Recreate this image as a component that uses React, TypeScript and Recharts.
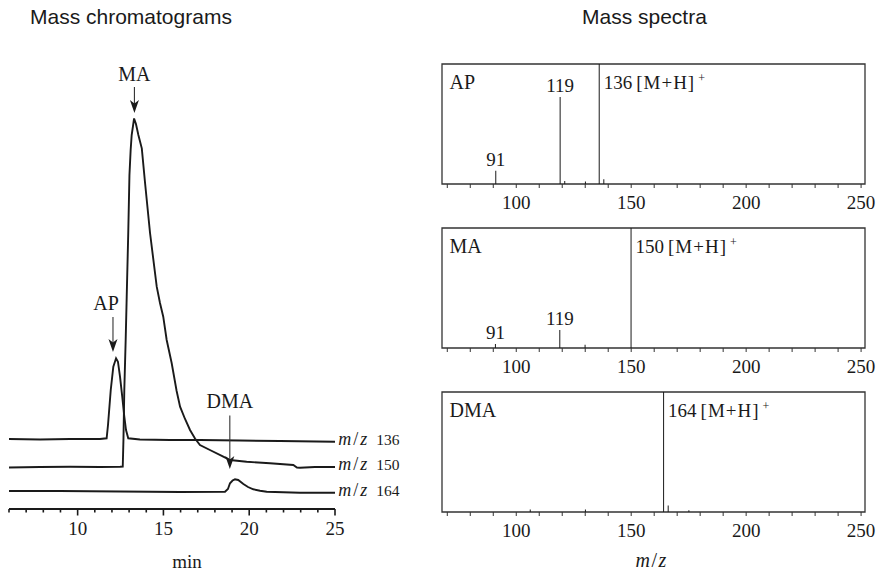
import React from 'react';
import {
  ComposedChart,
  Line,
  Bar,
  XAxis,
  YAxis,
  ReferenceArea,
  ReferenceLine,
  LabelList,
  Label,
} from 'recharts';

const SERIF = '"Liberation Serif", "Times New Roman", serif';
const SANS = '"Liberation Sans", Arial, Helvetica, sans-serif';
const INK = '#1a1a1a';

// ---------------- Mass chromatograms ----------------
const chromTicks = [6, 7, 8, 9, 10, 11, 12, 13, 14, 15, 16, 17, 18, 19, 20, 21, 22, 23, 24, 25];
const chromTickLabels = [10, 15, 20, 25];

// m/z 136 trace (AP)
const mz136Time = [6.0, 7.81, 9.56, 11.3, 11.69, 11.77, 11.93, 12.08, 12.24, 12.35, 12.47, 12.6, 12.72, 12.82, 12.95, 13.63, 15.38, 17.13, 19.46, 21.79, 25.0];
const mz136Signal = [0, -0.5, 0, 0, 0.7, 14, 49, 72.3, 80.7, 77.3, 62.3, 42.3, 22.3, 9, 0.7, -0.5, -1, -1, -1.5, -2, -2.7];

// m/z 150 trace (MA)
const mz150Time = [6.0, 7.81, 9.56, 11.3, 12.47, 12.63, 12.67, 12.72, 12.8, 12.86, 12.95, 13.02, 13.09, 13.15, 13.29, 13.4, 13.54, 13.74, 13.93, 14.22, 14.61, 14.8, 14.99, 15.19, 15.48, 15.77, 15.97, 16.26, 16.55, 16.84, 17.13, 17.71, 18.49, 18.88, 19.85, 21.21, 22.57, 22.78, 22.96, 23.83, 25.0];
const mz150Signal = [-0.5, 0, 0.3, 0, 0.3, 0.5, 27, 77, 127, 170, 234, 292, 317, 332, 348.5, 343, 332, 318.7, 284, 234, 180.3, 164, 150.3, 127, 104, 76, 60.3, 48, 37, 28.5, 22, 17, 10.3, 7, 5.3, 3.7, 2, -0.5, -0.7, 0, 0];

// m/z 164 trace (DMA)
const mz164Time = [6.0, 8.97, 12.47, 15.97, 18.59, 18.76, 18.88, 19.03, 19.17, 19.36, 19.66, 19.93, 20.24, 20.63, 21.02, 22.96, 25.0];
const mz164Signal = [0, 0, -0.5, -1, -0.7, 2, 7.7, 10.5, 11.7, 11, 7, 4, 1.7, 0.3, -0.7, -1.7, -1.7];

const traceMz = [136, 150, 164];
const traceOffset = [70, 42, 18];

// peak annotations (arrow tail / tip in data units)
const peakNames = ['AP', 'MA', 'DMA'];
const peakArrowTime = [12.06, 13.31, 18.87];
const peakArrowTail = [192, 422, 93.5];
const peakArrowTip = [157, 396, 40];
const peakLabelDx = [-7, 0, 0];
const peakLabelGap = [7, 6, 8];

// ---------------- Mass spectra ----------------
const specTicks = [70, 80, 90, 100, 110, 120, 130, 140, 150, 160, 170, 180, 190, 200, 210, 220, 230, 240, 250];
const specTickLabels = [100, 150, 200, 250];
const specDomain: [number, number] = [67.7, 251.7];

const apMz = [91, 119, 121, 130, 136, 138];
const apAbund = [11, 72.5, 2.5, 2, 100, 4];
const apLabeled = [91, 119, 136];

const maMz = [91, 119, 130, 150];
const maAbund = [3.3, 15, 2.8, 100];
const maLabeled = [91, 119, 150];

const dmaMz = [106, 130, 164, 166, 175];
const dmaAbund = [2, 2, 100, 5.5, 1.4];
const dmaLabeled = [164];

const specNames = ['AP', 'MA', 'DMA'];
const specPrecursor = [136, 150, 164];

// ---------------- components ----------------
const ChromTick = (props: any) => {
  const { x, y, payload } = props;
  const v = payload.value;
  const major = chromTickLabels.includes(v);
  return (
    <g>
      <line x1={x} x2={x} y1={y} y2={y + (major ? 6.5 : 3.5)} stroke={INK} strokeWidth={1.6} />
      {major && (
        <text x={x} y={y + 26} textAnchor="middle" fontSize={19} fontFamily={SERIF} fill={INK}>
          {v}
        </text>
      )}
    </g>
  );
};

const EndLabel = ({ x, y, mz }: any) => (
  <text x={x + 3.3} y={y + 3} fontFamily={SERIF} fill={INK}>
    <tspan fontStyle="italic" fontSize={18}>m</tspan>
    <tspan fontSize={18} dx={2}>/</tspan>
    <tspan fontStyle="italic" fontSize={18} dx={2}>z</tspan>
    <tspan fontSize={15.5} dx={9}>{mz}</tspan>
  </text>
);

const PeakArrow = (props: any) => {
  const { x1, y1, x2, y2, name, dx, gap } = props;
  if (x1 == null || y1 == null || x2 == null || y2 == null) return <g />;
  return (
    <g>
      <line x1={x1} y1={y1} x2={x2} y2={y2 - 9} stroke="#333" strokeWidth={1.1} />
      <path
        d={`M${x2},${y2} L${x2 - 4.5},${y2 - 13} L${x2},${y2 - 9.5} L${x2 + 4.5},${y2 - 13} Z`}
        fill={INK}
      />
      <text x={x1 + dx} y={y1 - gap} textAnchor="middle" fontSize={20} fontFamily={SERIF} fill={INK}>
        {name}
      </text>
    </g>
  );
};

function Chromatogram() {
  const raw = [
    { time: mz136Time, signal: mz136Signal },
    { time: mz150Time, signal: mz150Signal },
    { time: mz164Time, signal: mz164Signal },
  ];
  const series = raw.map((s, k) => s.time.map((t, i) => ({ t, v: s.signal[i] + traceOffset[k] })));
  return (
    <ComposedChart width={420} height={578} margin={{ top: 49, right: 85, bottom: 9, left: 9 }}>
      <XAxis
        dataKey="t"
        type="number"
        domain={[6, 25]}
        ticks={chromTicks}
        interval={0}
        tickSize={0}
        tickMargin={0}
        tickLine={false}
        axisLine={{ stroke: INK, strokeWidth: 2 }}
        tick={(p: any) => <ChromTick {...p} />}
        height={60}
        allowDataOverflow
      >
        <Label
          content={(p: any) => {
            const vb = p.viewBox || {};
            return (
              <text
                x={vb.x + vb.width / 2 + 15}
                y={vb.y + 59}
                textAnchor="middle"
                fontSize={19}
                fontFamily={SERIF}
                fill={INK}
              >
                min
              </text>
            );
          }}
        />
      </XAxis>
      <YAxis type="number" domain={[0, 460]} hide width={0} allowDataOverflow />
      {series.map((d, k) => (
        <Line
          key={traceMz[k]}
          data={d}
          dataKey="v"
          type="linear"
          stroke={INK}
          strokeWidth={1.9}
          dot={false}
          activeDot={false}
          isAnimationActive={false}
        >
          <LabelList
            dataKey="v"
            content={(p: any) =>
              p.index === d.length - 1 ? <EndLabel x={p.x} y={p.y} mz={traceMz[k]} /> : null
            }
          />
        </Line>
      ))}
      {peakNames.map((n, k) => (
        <ReferenceLine
          key={n}
          segment={[
            { x: peakArrowTime[k], y: peakArrowTail[k] },
            { x: peakArrowTime[k], y: peakArrowTip[k] },
          ]}
          shape={(p: any) => (
            <PeakArrow {...p} name={n} dx={peakLabelDx[k]} gap={peakLabelGap[k]} />
          )}
        />
      ))}
    </ComposedChart>
  );
}

const SpecTick = (props: any) => {
  const { x, y, payload } = props;
  if (!specTickLabels.includes(payload.value)) return <g />;
  return (
    <text x={x} y={y + 20.5} textAnchor="middle" fontSize={19} fontFamily={SERIF} fill={INK}>
      {payload.value}
    </text>
  );
};

function SpectrumPanel({ idx, mz, abund, labeled, top, showXLabel }: any) {
  const name = specNames[idx];
  const precursor = specPrecursor[idx];
  const data = mz.map((m: number, i: number) => ({
    mz: m,
    abund: abund[i],
    label: labeled.includes(m) ? String(m) : '',
    precursor: m === precursor,
  }));
  const axisH = showXLabel ? 60 : 30;
  return (
    <div style={{ position: 'absolute', left: 420, top }}>
      <ComposedChart
        width={460}
        height={10 + 120 + axisH}
        data={data}
        margin={{ top: 10, right: 15, bottom: 0, left: 22 }}
      >
        <XAxis
          dataKey="mz"
          type="number"
          domain={specDomain}
          ticks={specTicks}
          interval={0}
          tickSize={4}
          tickMargin={0}
          tickLine={{ stroke: '#333', strokeWidth: 1 }}
          axisLine={false}
          tick={(p: any) => <SpecTick {...p} />}
          height={axisH}
          allowDataOverflow
        >
          {showXLabel && (
            <Label
              content={(p: any) => {
                const vb = p.viewBox || {};
                const cx = vb.x + vb.width / 2 - 2;
                const by = vb.y + 55;
                return (
                  <text x={cx - 16} y={by} fontFamily={SERIF} fontSize={20} fill={INK}>
                    <tspan fontStyle="italic">m</tspan>
                    <tspan dx={1.5}>/</tspan>
                    <tspan fontStyle="italic" dx={1.5}>z</tspan>
                  </text>
                );
              }}
            />
          )}
        </XAxis>
        <YAxis type="number" domain={[0, 100]} hide width={0} allowDataOverflow />
        <ReferenceArea
          x1={specDomain[0]}
          x2={specDomain[1]}
          y1={0}
          y2={100}
          fill="none"
          fillOpacity={0}
          stroke="#333"
          strokeWidth={1.3}
          ifOverflow="visible"
          label={(p: any) => {
            const vb = p.viewBox || {};
            return (
              <text x={vb.x + 7.5} y={vb.y + 24.5} fontSize={20} fontFamily={SERIF} fill={INK}>
                {name}
              </text>
            );
          }}
        />
        <Bar dataKey="abund" barSize={1} fill={INK} isAnimationActive={false}>
          <LabelList
            dataKey="label"
            content={(p: any) => {
              const rec = data[p.index];
              if (!rec || !rec.label) return null;
              const vb = p.viewBox || {};
              const bx = p.x ?? vb.x;
              const by = p.y ?? vb.y;
              const bw = p.width ?? vb.width ?? 1;
              if (rec.precursor) {
                return (
                  <text x={bx + bw + 4} y={by + 24.5} fontSize={19} fontFamily={SERIF} fill={INK}>
                    {rec.label}
                    <tspan dx={4} letterSpacing={1}>[M+H]</tspan>
                    <tspan fontSize={12} dx={3} dy={-6.5}>+</tspan>
                  </text>
                );
              }
              return (
                <text x={bx + bw / 2} y={by - 5} textAnchor="middle" fontSize={19} fontFamily={SERIF} fill={INK}>
                  {rec.label}
                </text>
              );
            }}
          />
        </Bar>
      </ComposedChart>
    </div>
  );
}

export default function App() {
  return (
    <div
      style={{
        position: 'absolute',
        left: 0,
        top: 0,
        width: 880,
        height: 578,
        background: '#fff',
        overflow: 'hidden',
      }}
    >
      <div
        style={{
          position: 'absolute',
          left: 30,
          top: 5,
          fontFamily: SANS,
          fontSize: 21,
          lineHeight: '24px',
          color: INK,
          whiteSpace: 'nowrap',
        }}
      >
        Mass chromatograms
      </div>
      <div
        style={{
          position: 'absolute',
          left: 582,
          top: 5,
          fontFamily: SANS,
          fontSize: 21,
          lineHeight: '24px',
          color: INK,
          whiteSpace: 'nowrap',
        }}
      >
        Mass spectra
      </div>
      <div style={{ position: 'absolute', left: 0, top: 0 }}>
        <Chromatogram />
      </div>
      <SpectrumPanel idx={0} mz={apMz} abund={apAbund} labeled={apLabeled} top={54} showXLabel={false} />
      <SpectrumPanel idx={1} mz={maMz} abund={maAbund} labeled={maLabeled} top={218.3} showXLabel={false} />
      <SpectrumPanel idx={2} mz={dmaMz} abund={dmaAbund} labeled={dmaLabeled} top={381.7} showXLabel={true} />
    </div>
  );
}
